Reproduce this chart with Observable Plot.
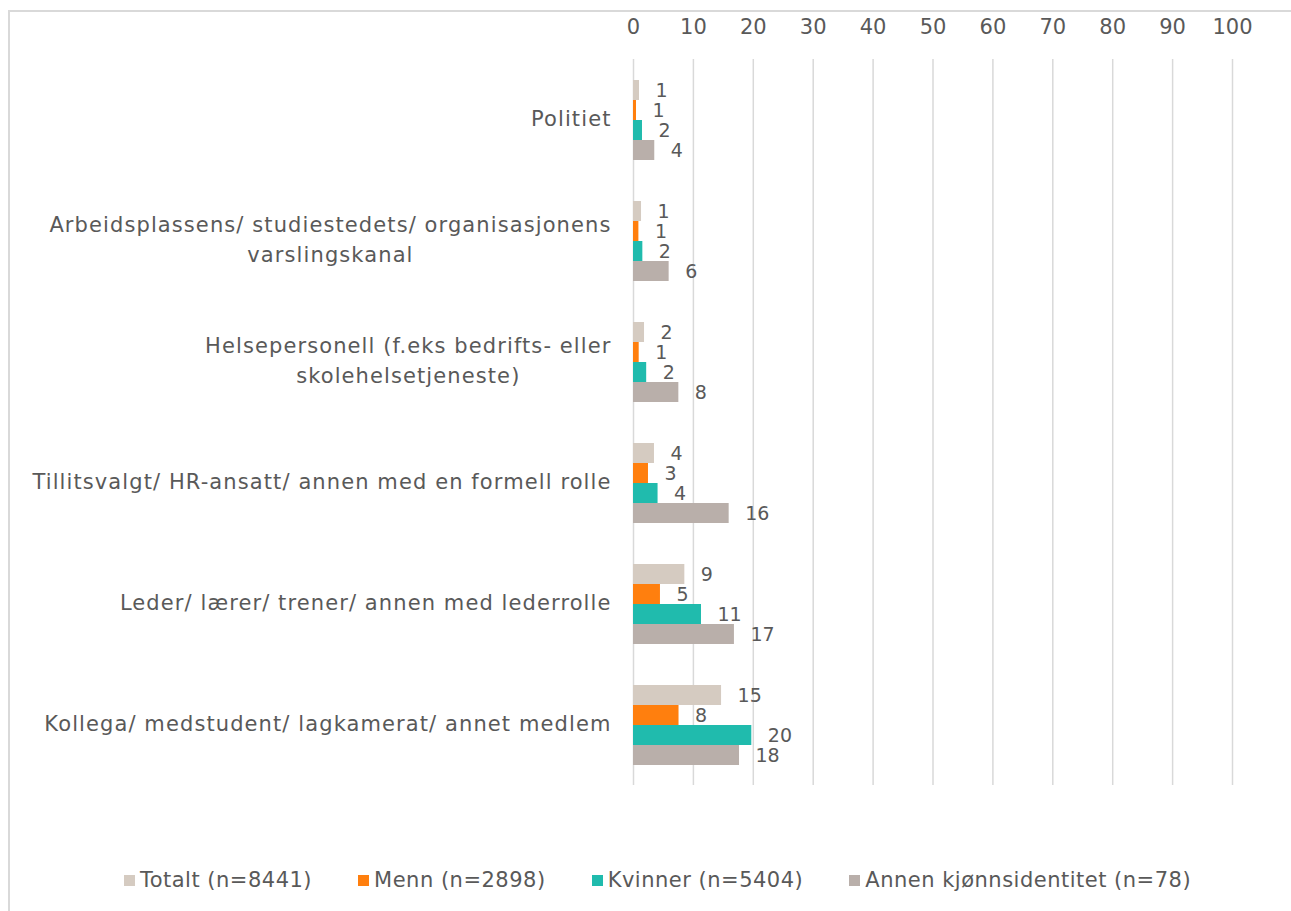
<!DOCTYPE html>
<html><head><meta charset="utf-8">
<script src="https://cdn.jsdelivr.net/npm/d3@7"></script>
<script src="https://cdn.jsdelivr.net/npm/@observablehq/plot@0.6"></script>
<style>
body{margin:0;background:#fff;}
#wrap{position:relative;width:1291px;height:911px;overflow:hidden;font-family:"DejaVu Sans";color:#595959;background:#fff;}
#frame{position:absolute;left:8px;top:10px;width:1400px;height:1000px;border-left:2px solid #d9d9d9;border-top:2px solid #d9d9d9;}
#chart{position:absolute;left:0;top:0;}
#legend{position:absolute;left:24px;top:866px;width:1267px;display:flex;justify-content:center;gap:46px;font-size:21px;letter-spacing:0.5px;line-height:28px;}
#legend .it{display:flex;align-items:center;white-space:nowrap;}
#legend .sw{display:inline-block;width:11px;height:11px;margin-right:5px;}
</style>
</head><body>
<div id="wrap"><div id="frame"></div><div id="chart"></div><div id="legend"></div></div>
<script>
const categories = [
  "Politiet",
  "Arbeidsplassens/ studiestedets/ organisasjonens\nvarslingskanal",
  "Helsepersonell (f.eks bedrifts- eller\nskolehelsetjeneste)",
  "Tillitsvalgt/ HR-ansatt/ annen med en formell rolle",
  "Leder/ lærer/ trener/ annen med lederrolle",
  "Kollega/ medstudent/ lagkamerat/ annet medlem"
];
const series = ["Totalt (n=8441)", "Menn (n=2898)", "Kvinner (n=5404)", "Annen kjønnsidentitet (n=78)"];
const totalt  = [1.0, 1.34, 1.84, 3.5, 8.57, 14.7];
const menn    = [0.5, 0.9, 0.95, 2.5, 4.5, 7.6];
const kvinner = [1.5, 1.56, 2.2, 4.1, 11.35, 19.75];
const annen   = [3.55, 5.95, 7.57, 15.97, 16.85, 17.7];
const xTicks = [0, 10, 20, 30, 40, 50, 60, 70, 80, 90, 100];
const colors = ["#d5cbc1", "#ff7f0e", "#20bbad", "#b9afaa"];

const seriesValues = [totalt, menn, kvinner, annen];
const rows = [];
categories.forEach((c, i) => series.forEach((s, j) => rows.push({category: c, series: s, value: seriesValues[j][i]})));

const textColor = "#595959";
const plot = Plot.plot({
  width: 1291,
  height: 800,
  marginTop: 58,
  marginBottom: 15,
  marginLeft: 633,
  marginRight: 59,
  style: {fontFamily: "DejaVu Sans", fontSize: "20px", color: textColor, background: "transparent", overflow: "visible"},
  x: {domain: [0, 100]},
  y: {domain: series, paddingInner: 0, paddingOuter: 0.92, axis: null},
  fy: {domain: categories, padding: 0},
  color: {domain: series, range: colors},
  marks: [
    Plot.gridX({ticks: xTicks, stroke: "#d9d9d9", strokeOpacity: 1, strokeWidth: 1.5}),
    Plot.axisX({anchor: "top", ticks: xTicks, tickSize: 0, tickPadding: 26, fontSize: 21, label: null, fill: textColor}),
    Plot.axisFy({anchor: "left", tickSize: 0, tickPadding: 22, fontSize: 21, label: null, fill: textColor, lineHeight: 1.45}),
    Plot.barX(rows, {x: "value", y: "series", fy: "category", fill: "series"}),
    Plot.text(rows, {x: "value", y: "series", fy: "category", text: d => String(Math.round(d.value)), textAnchor: "start", dx: 16, fontSize: 19, fill: textColor})
  ]
});
document.getElementById("chart").appendChild(plot);

// wider letter spacing on category labels; center multi-line labels against each other
plot.querySelectorAll("[aria-label='fy-axis tick label'] text").forEach(t => {
  t.setAttribute("letter-spacing", "1.1px");
  const spans = t.querySelectorAll("tspan");
  if (spans.length > 1) {
    const widths = Array.from(spans, s => s.getComputedTextLength());
    const maxW = Math.max(...widths);
    t.setAttribute("text-anchor", "middle");
    spans.forEach(s => s.setAttribute("x", -maxW / 2));
  }
  t.setAttribute("transform", (t.getAttribute("transform") || "") + " translate(0,-4)");
});

const legend = document.getElementById("legend");
series.forEach((s, j) => {
  const it = document.createElement("div");
  it.className = "it";
  const sw = document.createElement("span");
  sw.className = "sw";
  sw.style.background = colors[j];
  it.appendChild(sw);
  it.appendChild(document.createTextNode(s));
  legend.appendChild(it);
});
</script>
</body></html>
